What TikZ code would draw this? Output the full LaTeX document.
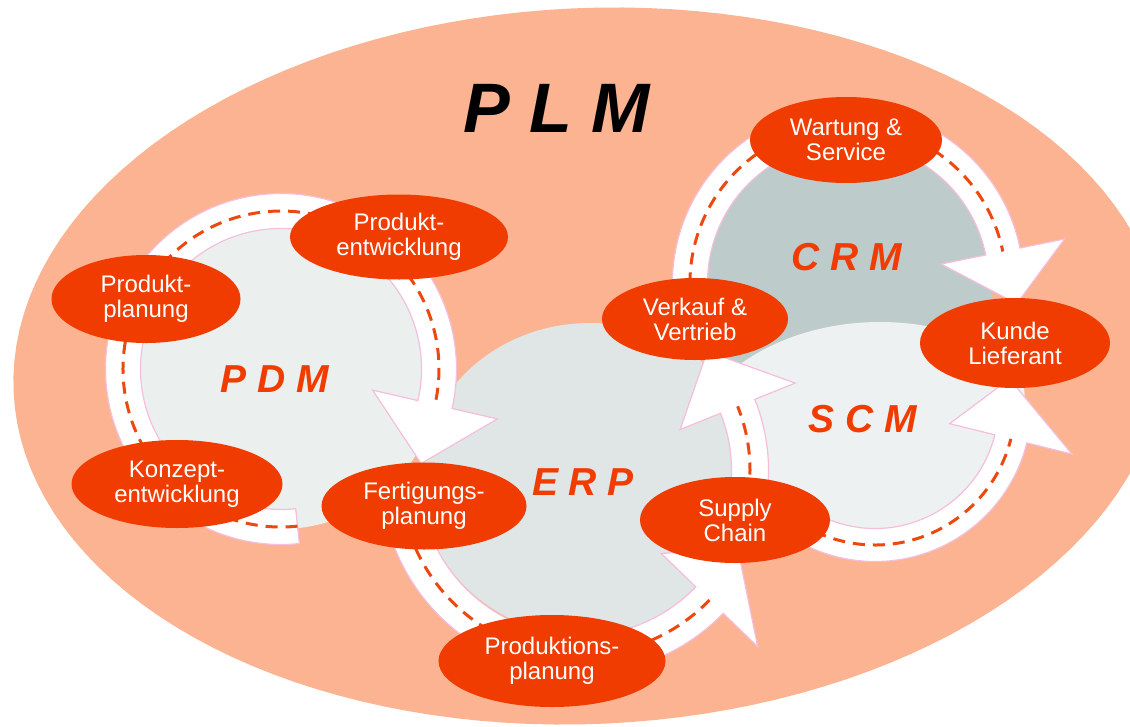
\documentclass[tikz,border=0pt]{standalone}
\usepackage{fontspec}
\setmainfont{Liberation Sans}
\usepackage{tikz}
\usetikzlibrary{shapes.geometric,calc,positioning}

\definecolor{plmsalmon}{RGB}{251,179,145}
\definecolor{nodeorange}{RGB}{240,60,0}
\definecolor{pdmgrey}{RGB}{235,239,238}
\definecolor{erpgrey}{RGB}{224,229,229}
\definecolor{scmgrey}{RGB}{237,241,241}
\definecolor{crmgrey}{RGB}{190,203,203}
\definecolor{bandpink}{RGB}{244,190,220}
\definecolor{dashorange}{RGB}{236,72,16}

% circular band with arrow head: center, radius, width, from, to, head half width, tip angle, tip radius
\newcommand{\myarrow}[8]{%
  \pgfmathsetmacro{\bandout}{#2+#3/2}%
  \pgfmathsetmacro{\bandin}{#2-#3/2}%
  \pgfmathsetmacro{\wingout}{#2+#6}%
  \pgfmathsetmacro{\wingin}{#2-#6}%
  \filldraw[myband] ($(#1)+(#4:\bandout)$) arc[start angle=#4, end angle=#5, radius=\bandout]
    -- ($(#1)+(#5:\wingout)$) -- ($(#1)+(#7:#8)$) -- ($(#1)+(#5:\wingin)$)
    -- ($(#1)+(#5:\bandin)$) arc[start angle=#5, end angle=#4, radius=\bandin] -- cycle;
  \draw[mydash] ($(#1)+(#4:#2)$) arc[start angle=#4, end angle=#5, radius=#2];
}

\begin{document}
\begin{tikzpicture}[x=1pt, y=-1pt,
    mynode/.style={ellipse, fill=nodeorange, text=white, align=center, inner sep=0pt,
        font=\fontsize{24}{25}\selectfont},
    mylabel/.style={text=nodeorange, font=\fontsize{39}{40}\selectfont\bfseries\itshape},
    myband/.style={fill=white, draw=bandpink, line width=1.2pt},
    mydash/.style={draw=dashorange, line width=3pt, dash pattern=on 12pt off 8pt}
]
\useasboundingbox (0,0) rectangle (1130,726);
\fill[white] (0,0) rectangle (1130,726);

% PLM background, slightly tilted ellipse
\fill[plmsalmon] plot[domain=0:360, samples=145, variable=\t]
    ({589+575.4*cos(\t)+16.24*sin(\t)}, {366-26.13*cos(\t)+357.6*sin(\t)}) -- cycle;

% areas
\fill[erpgrey] (590,480) ellipse [x radius=170, y radius=157];
\fill[pdmgrey] (281,369) circle [radius=160];
\fill[crmgrey] (848,283) circle [radius=145];
\begin{scope}
  \clip (875,405) circle [radius=150];
  \fill[scmgrey] (880,470) ellipse [x radius=200, y radius=148];
\end{scope}

% bands
\myarrow{281,369}{158}{35}{84}{373}{64}{394}{169}
\myarrow{580,475}{180}{38}{175}{44}{67}{25}{174}
\myarrow{580,470}{170}{37}{15}{-22}{62}{-43}{174}
\myarrow{875,405}{140}{33}{140}{14}{63}{-11}{137}
\myarrow{848,283}{158}{35}{165}{348.5}{63}{367}{170}

% steps
\node[mynode, minimum width=189, minimum height=88] (pplan) at (146,299) {Produkt-\\planung};
\node[mynode, minimum width=218, minimum height=85] (pentw) at (399,237) {Produkt-\\entwicklung};
\node[mynode, minimum width=211, minimum height=88] (kentw) at (177,484) {Konzept-\\entwicklung};
\node[mynode, minimum width=205, minimum height=87] (fplan) at (424,506) {Fertigungs-\\planung};
\node[mynode, minimum width=227, minimum height=92] (prplan) at (552,661) {Produktions-\\planung};
\node[mynode, minimum width=190, minimum height=86] (supply) at (735,520) {Supply\\Chain};
\node[mynode, minimum width=186, minimum height=82] (verkauf) at (695,319) {Verkauf \&\\Vertrieb};
\node[mynode, minimum width=192, minimum height=86] (wartung) at (846,140) {Wartung \&\\Service};
\node[mynode, minimum width=190, minimum height=90] (kunde) at (1015,343) {Kunde\\Lieferant};

% labels
\node[font=\fontsize{70}{72}\selectfont\bfseries\itshape] (plm) at (557,108) {P L M};
\node[mylabel] (pdm) at (275,379) {P D M};
\node[mylabel] (erp) at (583,482) {E R P};
\node[mylabel] (scm) at (863,419) {S C M};
\node[mylabel] (crm) at (847,257) {C R M};
\end{tikzpicture}
\end{document}
